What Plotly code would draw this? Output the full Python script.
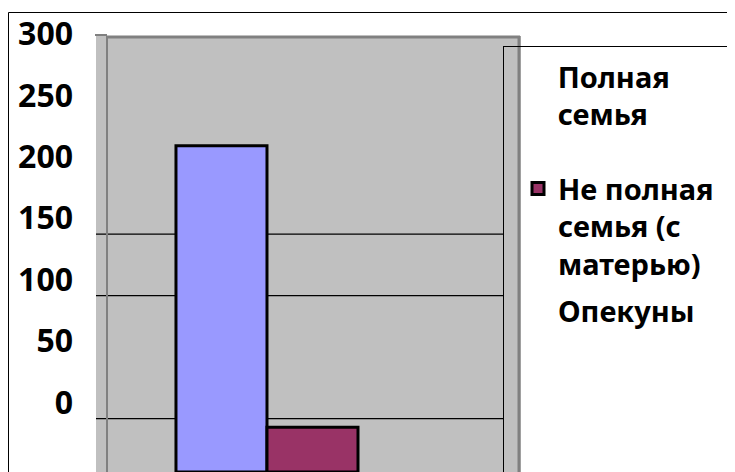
import plotly.graph_objects as go

# ---- data ----
categories = ["Семья"]
series_names = ["Полная семья", "Не полная семья (с матерью)", "Опекуны"]
full_family = [222]
single_mother = [-7]
guardians = [None]
y_tick_values = [0, 50, 100, 150, 200, 250, 300]
y_tick_labels = ["0", "50", "100", "150", "200", "250", "300"]
gridline_values = [0, 100, 150]
y_range = [-43.5, 311.3]

# ---- style ----
OFF = 8  # default page body margin
W, H = 735, 472
ML, MR, MT, MB = 88, 222, 28, 8
PW, PH = W - ML - MR, H - MT - MB
FONT = "Noto Sans"


def px(xpage):
    return (xpage - OFF - ML) / PW


def py(ypage):
    return (H - MB - (ypage - OFF)) / PH


def lengths(values):
    # bars stand on the floor of the chart (bottom of the value axis)
    return [None if v is None else v - y_range[0] for v in values]


fig = go.Figure()
bar_line = dict(color="black", width=3)
fig.add_trace(go.Bar(x=categories, y=lengths(full_family), name=series_names[0],
                     marker=dict(color="#9999FF", line=bar_line),
                     base=y_range[0], showlegend=False))
fig.add_trace(go.Bar(x=categories, y=lengths(single_mother), name="Не полная<br>семья (с<br>матерью)",
                     marker=dict(color="#993366", line=bar_line),
                     base=y_range[0], legendgroup="g1"))
fig.add_trace(go.Bar(x=categories, y=lengths(guardians), name=series_names[2],
                     marker=dict(color="rgba(0,0,0,0)", line=dict(width=0)),
                     base=y_range[0], legendgroup="g2"))

shapes = []
# gridlines on the back wall
for v in gridline_values:
    shapes.append(dict(type="line", xref="paper", yref="y", x0=px(96), x1=px(503), y0=v, y1=v,
                       line=dict(color="black", width=1.3), layer="below"))
# wall frame
shapes += [
    dict(type="line", xref="paper", yref="paper", x0=px(107), x1=px(520), y0=py(37), y1=py(37),
         line=dict(color="#808080", width=3)),
    dict(type="line", xref="paper", yref="paper", x0=px(519), x1=px(519), y0=py(36), y1=py(480),
         line=dict(color="#808080", width=3)),
    dict(type="line", xref="paper", yref="paper", x0=px(107), x1=px(107), y0=py(36), y1=py(480),
         line=dict(color="#808080", width=2), layer="below"),
    dict(type="line", xref="paper", yref="paper", x0=px(95), x1=px(107), y0=py(35), y1=py(35),
         line=dict(color="black", width=1)),
    # legend frame
    dict(type="line", xref="paper", yref="paper", x0=px(503), x1=px(745), y0=py(46.5), y1=py(46.5),
         line=dict(color="black", width=1)),
    dict(type="line", xref="paper", yref="paper", x0=px(503.5), x1=px(503.5), y0=py(46.5), y1=py(480),
         line=dict(color="black", width=1)),
    # outer chart frame
    dict(type="line", xref="paper", yref="paper", x0=px(8.5), x1=px(745), y0=py(12.5), y1=py(12.5),
         line=dict(color="black", width=1)),
    dict(type="line", xref="paper", yref="paper", x0=px(8.5), x1=px(8.5), y0=py(12.5), y1=py(480),
         line=dict(color="black", width=1)),
]

fig.update_layout(
    width=W, height=H,
    margin=dict(l=ML, r=MR, t=MT, b=MB, pad=0, autoexpand=False),
    paper_bgcolor="white", plot_bgcolor="#C0C0C0",
    barmode="group", bargap=0.3576, bargroupgap=0,
    font=dict(family=FONT, color="black"),
    xaxis=dict(range=[-0.5094, 0.4906], showticklabels=False, showgrid=False,
               zeroline=False, showline=False, fixedrange=True),
    yaxis=dict(range=y_range, tickvals=y_tick_values, ticktext=y_tick_labels,
               showgrid=False, zeroline=False, showline=False, ticks="",
               ticklabelshift=-16, ticklabelstandoff=22,
               tickfont=dict(family=FONT, size=32, color="black", weight="bold")),
    legend=dict(x=px(518), xanchor="left", y=py(50), yanchor="top",
                bgcolor="rgba(0,0,0,0)", borderwidth=0, valign="top",
                font=dict(family=FONT, size=29, color="black", weight="bold"),
                title=dict(text="\u00a0" * 5 + "Полная<br>" + "\u00a0" * 5 + "семья<br> ",
                           font=dict(family=FONT, size=29, color="black", weight="bold")),
                tracegroupgap=6),
    shapes=shapes,
    showlegend=True,
)

fig.write_html("out.html")
